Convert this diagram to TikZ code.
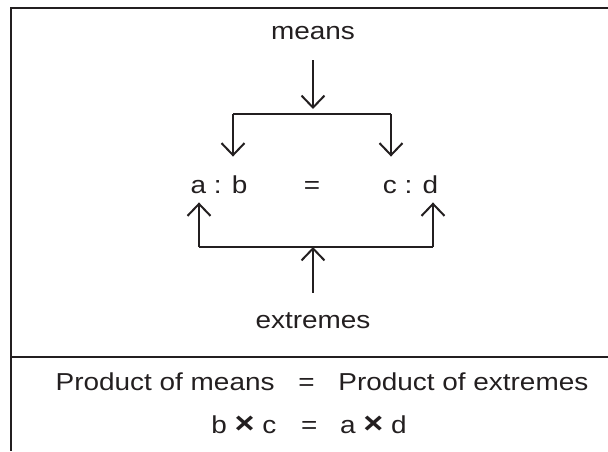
\documentclass[tikz,border=0pt]{standalone}
\usepackage{fontspec}
\setmainfont{Liberation Sans}[FakeStretch=1.14]
\usetikzlibrary{arrows.meta, positioning}
\definecolor{ink}{RGB}{35,31,32}

\begin{document}
\begin{tikzpicture}[
    x=1pt, y=-1pt,
    >={Straight Barb[length=12pt, width=23pt]},
    font=\fontsize{24.5}{28}\selectfont,
    term/.style={inner sep=0pt, text=ink, anchor=base},
    arrow/.style={->, line width=2pt, draw=ink},
    bar/.style={line width=2pt, draw=ink},
    ruleline/.style={line width=2.4pt, draw=ink}
  ]
    \useasboundingbox (0,0) rectangle (608,451);
    % frame
    \draw[ruleline] (608,8) -- (11,8) -- (11,451);
    \draw[ruleline] (11,357) -- (608,357);
    % proportion
    \node[term] (means) at (313,39) {means};
    \node[term] (ab) at (219,193) {a : b};
    \node[term] (eq) at (312,193) {=};
    \node[term] (cd) at (410.5,193) {c : d};
    \node[term] (extremes) at (313,328) {extremes};
    \coordinate (topmid) at (313,114);
    \coordinate (tl) at (233,114);
    \coordinate (tr) at (391,114);
    \coordinate (botmid) at (313,247);
    \coordinate (bl) at (199,247);
    \coordinate (br) at (433,247);
    \draw[arrow, shorten <=21pt, shorten >=5pt] (means.south) -- (topmid);
    \draw[bar] (tl) -- (tr);
    \draw[arrow, shorten >=18.5pt] (tl) -- (tl |- ab.north);
    \draw[arrow, shorten >=18.5pt] (tr) -- (tr |- cd.north);
    \draw[bar] (bl) -- (br);
    \draw[arrow, shorten >=9pt] (bl) -- (bl |- ab.south);
    \draw[arrow, shorten >=9pt] (br) -- (br |- cd.south);
    \draw[arrow, shorten <=19pt] (extremes.north) -- (botmid);
    % products
    \node[term] (prodrow) at (322,390)
    {Product of means\hspace{16pt} = \hspace{16pt}Product of extremes};
    \node[term] (crossrow) at (309,433)
    {b {\fontsize{30}{30}\bfseries ×} c\hspace{17pt} = \hspace{15pt}a {\fontsize{30}{30}\bfseries ×} d};
\end{tikzpicture}
\end{document}
